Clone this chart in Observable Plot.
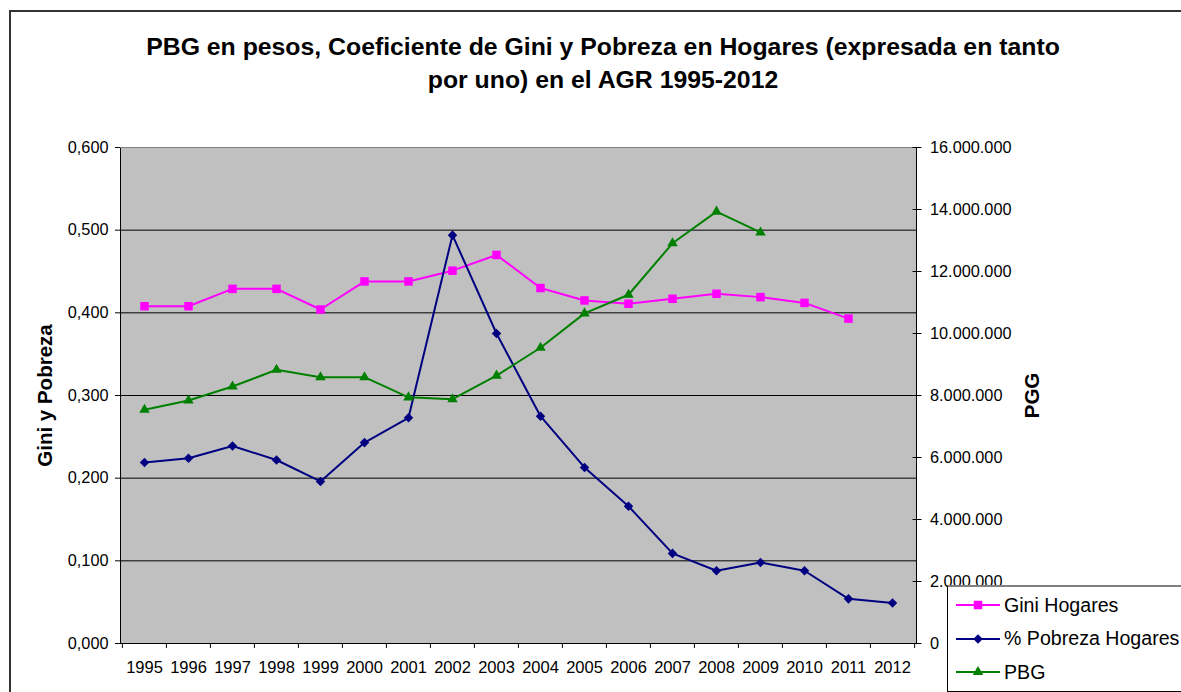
<!DOCTYPE html>
<html>
<head>
<meta charset="utf-8">
<script src="https://cdn.jsdelivr.net/npm/d3@7"></script>
<script src="https://cdn.jsdelivr.net/npm/@observablehq/plot@0.6"></script>
<style>
  html, body { margin: 0; padding: 0; background: #fff; }
  #wrap { position: relative; width: 1181px; height: 692px; overflow: hidden; font-family: "Liberation Sans", Arial, sans-serif; }
  #border { position: absolute; left: 9px; top: 10px; width: 1400px; height: 900px; border-top: 2px solid #333; border-left: 2px solid #333; }
  #title { position: absolute; left: 0; top: 30px; width: 1206px; text-align: center; font-weight: bold; font-size: 24.8px; line-height: 33px; color: #000; }
  #chart { position: absolute; left: 0; top: 0; }
  #legend { position: absolute; left: 947px; top: 585px; width: 320px; height: 104px; background: #fff; border-top: 2px solid #808080; border-left: 1px solid #000; border-bottom: 1px solid #000; }
  .row { position: absolute; left: 0; height: 24px; display: flex; align-items: center; font-size: 19.6px; white-space: nowrap; }
  .row svg { margin-left: 8px; margin-right: 4px; }
</style>
</head>
<body>
<div id="wrap">
  <div id="border"></div>
  <div id="title"></div>
  <div id="chart"></div>
  <div id="legend"></div>
</div>
<script>
// ---- Data ----
const years = ["1995","1996","1997","1998","1999","2000","2001","2002","2003","2004","2005","2006","2007","2008","2009","2010","2011","2012"];
const giniHogares = [0.408,0.408,0.429,0.429,0.404,0.438,0.438,0.451,0.470,0.430,0.415,0.411,0.417,0.423,0.419,0.412,0.393,null];
const pobrezaHogares = [0.219,0.224,0.239,0.222,0.196,0.243,0.273,0.494,0.375,0.275,0.213,0.166,0.109,0.088,0.098,0.088,0.054,0.049];
const pbg = [7540000,7840000,8290000,8830000,8590000,8590000,7940000,7880000,8640000,9540000,10650000,11250000,12910000,13930000,13260000,null,null,null];
const leftTicks = [0,0.1,0.2,0.3,0.4,0.5,0.6];
const gridTicks = [0.1,0.2,0.3,0.4,0.5];
const rightTicks = [0,2000000,4000000,6000000,8000000,10000000,12000000,14000000,16000000];
const seriesNames = ["Gini Hogares","% Pobreza Hogares","PBG"];
const titleLines = ["PBG en pesos, Coeficiente de Gini y Pobreza en Hogares (expresada en tanto","por uno) en el AGR 1995-2012"];
const leftLabel = "Gini y Pobreza";
const rightLabel = "PGG";

const colors = {gini: "#ff00ff", pob: "#000080", pbg: "#008000"};

// ---- Build ----
const rows = years.map((year, i) => ({year, gini: giniHogares[i], pob: pobrezaHogares[i], pbg: pbg[i]}));
const leftMax = 0.6, rightMax = 16000000;
const K = leftMax / rightMax; // map right axis values into left units

const loc = d3.formatLocale({decimal: ",", thousands: ".", grouping: [3], currency: ["$", ""]});
const fmtLeft = loc.format(".3f");
const fmtRight = loc.format(",d");

const W = 1181, H = 692, mL = 120, mR = 265, mT = 147, mB = 49;
const bw = (W - mL - mR) / years.length;

const chart = Plot.plot({
  width: W, height: H,
  marginLeft: mL, marginRight: mR, marginTop: mT, marginBottom: mB,
  style: {fontFamily: "'Liberation Sans', Arial, sans-serif", fontSize: "16px", background: "transparent", overflow: "visible", color: "#000"},
  x: {type: "band", domain: years, padding: 0, axis: null},
  y: {domain: [0, leftMax], axis: null},
  marks: [
    Plot.frame({fill: "#c0c0c0", stroke: "#000"}),
    Plot.ruleY(gridTicks, {stroke: "#000", strokeWidth: 1}),
    Plot.ruleY([leftMax], {stroke: "#808080", strokeWidth: 1}),
    Plot.axisY(leftTicks, {anchor: "left", tickSize: 5, tickPadding: 7, tickFormat: fmtLeft, label: null, fontSize: 16.3}),
    Plot.axisY(rightTicks.map(v => v * K), {anchor: "right", tickSize: 9, dx: -4.5, tickPadding: 9, tickFormat: d => fmtRight(Math.round(d / K)), label: null, fontSize: 16.3}),
    Plot.axisX(years, {anchor: "bottom", tickSize: 0, tickPadding: 18, label: null, fontSize: 16.5}),
    Plot.ruleX(years, {x: d => d, dx: -bw / 2, y1: 0, y2: -0.006, stroke: "#000"}),
    Plot.ruleX(years.slice(-1), {x: d => d, dx: bw / 2, y1: 0, y2: -0.006, stroke: "#000"}),
    Plot.text([leftLabel], {text: d => d, frameAnchor: "left", textAnchor: "middle", lineAnchor: "middle", dx: -75, rotate: -90, fontWeight: "bold", fontSize: 20.5}),
    Plot.text([rightLabel], {text: d => d, frameAnchor: "right", textAnchor: "middle", lineAnchor: "middle", dx: 116, rotate: -90, fontWeight: "bold", fontSize: 20.5}),
    // Gini
    Plot.line(rows, {x: "year", y: "gini", stroke: colors.gini, strokeWidth: 2}),
    Plot.dot(rows, {x: "year", y: "gini", symbol: "square", r: 4.8, fill: colors.gini, stroke: "none"}),
    // Pobreza
    Plot.line(rows, {x: "year", y: "pob", stroke: colors.pob, strokeWidth: 2}),
    Plot.dot(rows, {x: "year", y: "pob", symbol: "diamond2", r: 4.3, fill: colors.pob, stroke: "none"}),
    // PBG (right axis)
    Plot.line(rows, {x: "year", y: d => d.pbg == null ? null : d.pbg * K, stroke: colors.pbg, strokeWidth: 2}),
    Plot.dot(rows, {x: "year", y: d => d.pbg == null ? null : d.pbg * K, symbol: "triangle", r: 3.9, fill: colors.pbg, stroke: "none"})
  ]
});
document.getElementById("chart").appendChild(chart);

// Title
document.getElementById("title").innerHTML = titleLines.map(t => `<div>${t}</div>`).join("");

// Legend
const sq = d3.symbol(d3.symbolSquare, Math.PI * 4.8 * 4.8)();
const di = d3.symbol(d3.symbolDiamond2, Math.PI * 4.3 * 4.3)();
const tr = d3.symbol(d3.symbolTriangle, Math.PI * 3.9 * 3.9)();
const legendItems = [
  {name: seriesNames[0], color: colors.gini, path: sq},
  {name: seriesNames[1], color: colors.pob, path: di},
  {name: seriesNames[2], color: colors.pbg, path: tr}
];
const lg = document.getElementById("legend");
legendItems.forEach((it, i) => {
  const r = document.createElement("div");
  r.className = "row";
  r.style.top = (6 + i * 33.5) + "px";
  r.innerHTML = `<svg width="44" height="20" viewBox="0 0 44 20"><line x1="0" x2="44" y1="10" y2="10" stroke="${it.color}" stroke-width="2"/><path transform="translate(22,10)" d="${it.path}" fill="${it.color}"/></svg><span>${it.name}</span>`;
  lg.appendChild(r);
});
</script>
</body>
</html>
